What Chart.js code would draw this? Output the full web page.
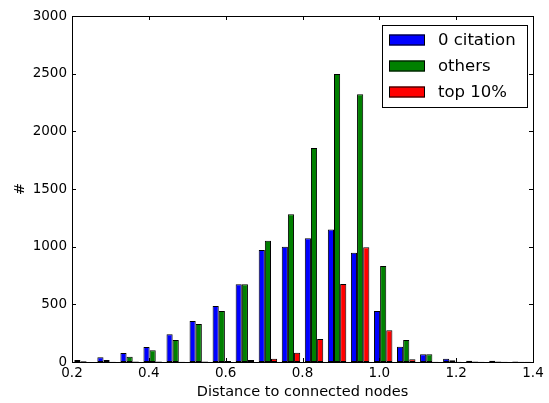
<!doctype html>
<html lang="en">
  <head>
    <script src="https://cdn.jsdelivr.net/npm/chart.js"></script>
    <title>Distance to connected nodes</title>
    <style>
      html, body { margin: 0; padding: 0; background: #fff; }
    </style>
  </head>
  <body>
    <div style="width: 549px; height: 403px;"><canvas id="histChart"></canvas></div>
  <script>
    // bin centres (bins of 0.06 from 0.2 to 1.4)
    const binCenters = [0.23, 0.29, 0.35, 0.41, 0.47, 0.53, 0.59, 0.65, 0.71, 0.77,
                        0.83, 0.89, 0.95, 1.01, 1.07, 1.13, 1.19, 1.25, 1.31, 1.37];
    const zeroCitation = [17, 41, 78, 130, 240, 355, 486, 675, 972, 1000,
                          1073, 1148, 948, 442, 133, 67, 29, 10, 10, 4];
    const others = [6, 17, 46, 101, 191, 329, 442, 675, 1052, 1281,
                    1855, 2497, 2321, 832, 191, 67, 15, 5, 4, 3];
    const top10 = [1, 2, 4, 4, 3, 4, 9, 17, 29, 81,
                   200, 676, 995, 275, 23, 3, 3, 2, 2, 2];
    const xTicks = [0.2, 0.4, 0.6, 0.8, 1.0, 1.2, 1.4];
    const yTicks = [0, 500, 1000, 1500, 2000, 2500, 3000];

    const FONT = "'DejaVu Sans', sans-serif";

    function toPoints(values) {
        return values.map((v, i) => ({ x: binCenters[i], y: v }));
    }

    // matplotlib-like frame with inward ticks on all four sides
    const framePlugin = {
        id: 'frame',
        afterDraw(chart) {
            const ctx = chart.ctx;
            const a = chart.chartArea;
            const xs = chart.scales.x, ys = chart.scales.y;
            const len = 4;
            ctx.save();
            ctx.strokeStyle = '#000';
            ctx.lineWidth = 1;
            ctx.beginPath();
            xTicks.forEach(t => {
                const px = Math.round(xs.getPixelForValue(t)) + 0.5;
                ctx.moveTo(px, a.bottom); ctx.lineTo(px, a.bottom - len);
                ctx.moveTo(px, a.top); ctx.lineTo(px, a.top + len);
            });
            yTicks.forEach(t => {
                const py = Math.round(ys.getPixelForValue(t)) + 0.5;
                ctx.moveTo(a.left, py); ctx.lineTo(a.left + len, py);
                ctx.moveTo(a.right, py); ctx.lineTo(a.right - len, py);
            });
            ctx.stroke();
            ctx.strokeRect(Math.round(a.left) + 0.5, Math.round(a.top) + 0.5,
                           Math.round(a.right - a.left), Math.round(a.bottom - a.top));
            ctx.restore();
        }
    };

    // legend box in the upper right corner of the axes
    const legendPlugin = {
        id: 'boxLegend',
        afterDraw(chart) {
            const ctx = chart.ctx;
            const a = chart.chartArea;
            const right = a.right - 6, top = a.top + 9;
            const w = 145, h = 82;
            const left = right - w;
            ctx.save();
            ctx.fillStyle = '#fff';
            ctx.fillRect(left, top, w, h);
            ctx.strokeStyle = '#000';
            ctx.lineWidth = 1;
            ctx.strokeRect(Math.round(left) + 0.5, Math.round(top) + 0.5, w, h);
            ctx.font = '16.5px ' + FONT;
            ctx.textBaseline = 'middle';
            chart.data.datasets.forEach((ds, i) => {
                const cy = top + 15 + i * 26;
                ctx.fillStyle = ds.backgroundColor;
                ctx.fillRect(left + 7, cy - 5.5, 36, 11);
                ctx.strokeRect(left + 7.5, cy - 5, 35, 10);
                ctx.fillStyle = '#000';
                ctx.fillText(ds.label, left + 56, cy + 1);
            });
            ctx.restore();
        }
    };

    window.addEventListener("load", () => {
        new Chart(
            document.getElementById('histChart'),
            {
            type: 'bar',
            data: {
                datasets: [
                {
                    label: '0 citation',
                    data: toPoints(zeroCitation),
                    backgroundColor: '#0000ff'
                },
                {
                    label: 'others',
                    data: toPoints(others),
                    backgroundColor: '#008000'
                },
                {
                    label: 'top 10%',
                    data: toPoints(top10),
                    backgroundColor: '#ff0000'
                }
                ]
            },
            options: {
                responsive: true,
                maintainAspectRatio: false,
                animation: false,
                layout: { padding: { top: 16, right: 16, left: 0, bottom: 0 } },
                datasets: {
                    bar: {
                        categoryPercentage: 0.8,
                        barPercentage: 1.0,
                        borderColor: '#000',
                        borderWidth: 1,
                        borderSkipped: false
                    }
                },
                plugins: {
                    legend: { display: false },
                    tooltip: { enabled: false }
                },
                scales: {
                    x: {
                        type: 'linear',
                        min: 0.2,
                        max: 1.4,
                        offset: false,
                        grid: { display: false, drawTicks: false },
                        border: { display: false },
                        afterBuildTicks: s => { s.ticks = xTicks.map(v => ({ value: v })); },
                        afterFit: s => { s.height = 41; },
                        ticks: {
                            padding: 3,
                            color: '#000',
                            font: { family: FONT, size: 13.5 },
                            callback: v => v.toFixed(1),
                            maxRotation: 0
                        },
                        title: {
                            display: true,
                            text: 'Distance to connected nodes',
                            color: '#000',
                            font: { family: FONT, size: 14.5 },
                            padding: { top: 2, bottom: 2 }
                        }
                    },
                    y: {
                        min: 0,
                        max: 3000,
                        grid: { display: false, drawTicks: false },
                        border: { display: false },
                        afterBuildTicks: s => { s.ticks = yTicks.map(v => ({ value: v })); },
                        afterFit: s => { s.width = 72; },
                        ticks: {
                            padding: 5,
                            color: '#000',
                            font: { family: FONT, size: 13.5 },
                            callback: v => String(v)
                        },
                        title: {
                            display: true,
                            text: '#',
                            color: '#000',
                            font: { family: FONT, size: 14.5 },
                            padding: { top: 12, bottom: 4 }
                        }
                    }
                }
            },
            plugins: [framePlugin, legendPlugin]
            }
        );
    });
  </script>
  </body>
</html>
